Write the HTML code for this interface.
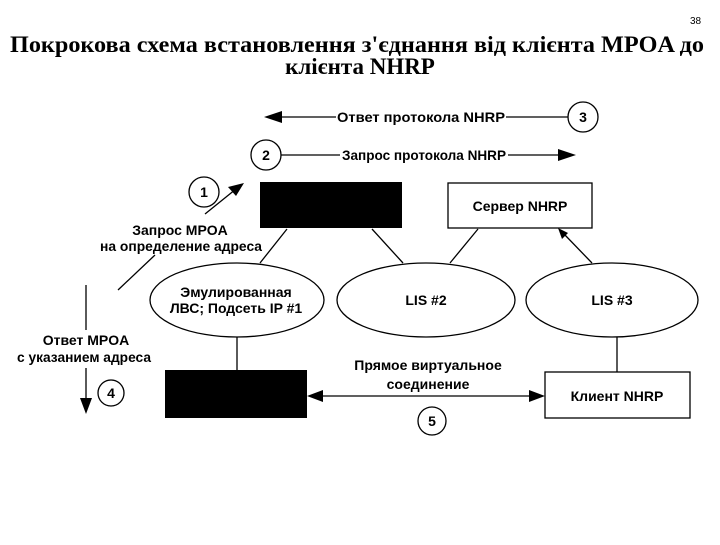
<!DOCTYPE html>
<html><head><meta charset="utf-8"><style>
body{margin:0;background:#fff;width:720px;height:540px;overflow:hidden}
svg text{font-family:"Liberation Sans",sans-serif;font-weight:bold;font-size:14px;fill:#000}
</style></head><body>
<svg width="720" height="540" viewBox="0 0 720 540" xmlns="http://www.w3.org/2000/svg">
<text x="690" y="24" style="font-weight:normal;font-size:10px">38</text>
<text x="357" y="52" text-anchor="middle" textLength="694" lengthAdjust="spacingAndGlyphs" style="font-family:'Liberation Serif',serif;font-size:23px">Покрокова схема встановлення з'єднання від клієнта MPOA до</text>
<text x="360" y="74" text-anchor="middle" style="font-family:'Liberation Serif',serif;font-size:23px">клієнта NHRP</text>
<g stroke="#000" stroke-width="1.3" fill="none">
<line x1="280" y1="117" x2="336" y2="117"/><line x1="506" y1="117" x2="568" y2="117"/>
<circle cx="583" cy="117" r="15"/>
<circle cx="266" cy="155" r="15"/>
<line x1="281" y1="155" x2="340" y2="155"/><line x1="508" y1="155" x2="562" y2="155"/>
<rect x="448" y="183" width="144" height="45"/>
<circle cx="204" cy="192" r="15"/>
<line x1="205" y1="214" x2="236" y2="189"/>
<line x1="287" y1="229" x2="260" y2="263"/>
<line x1="155" y1="255" x2="118" y2="290"/>
<ellipse cx="237" cy="300" rx="87" ry="37"/>
<ellipse cx="426" cy="300" rx="89" ry="37"/>
<ellipse cx="612" cy="300" rx="86" ry="37"/>
<line x1="372" y1="229" x2="403" y2="263"/>
<line x1="478" y1="229" x2="450" y2="263"/>
<line x1="564" y1="234" x2="592" y2="263"/>
<line x1="86" y1="285" x2="86" y2="330"/>
<line x1="86" y1="368" x2="86" y2="405"/>
<circle cx="111" cy="393" r="13"/>
<line x1="237" y1="337" x2="237" y2="370"/>
<line x1="320" y1="396" x2="532" y2="396"/>
<circle cx="432" cy="421" r="14"/>
<rect x="545" y="372" width="145" height="46"/>
<line x1="617" y1="337" x2="617" y2="372"/>
</g>
<g fill="#000">
<polygon points="264,117 282,111 282,123"/>
<polygon points="576,155 558,149 558,161"/>
<polygon points="244,183 228,187 236,196"/>
<polygon points="558,228 562,239 568,233"/>
<polygon points="86,414 80,398 92,398"/>
<polygon points="307,396 323,390 323,402"/>
<polygon points="545,396 529,390 529,402"/>
<rect x="260" y="182" width="142" height="46"/>
<rect x="165" y="370" width="142" height="48"/>
</g>
<text x="337" y="122" textLength="168" lengthAdjust="spacingAndGlyphs">Ответ протокола NHRP</text>
<text x="583" y="122" text-anchor="middle">3</text>
<text x="266" y="160" text-anchor="middle">2</text>
<text x="342" y="160" textLength="164" lengthAdjust="spacingAndGlyphs">Запрос протокола NHRP</text>
<text x="520" y="211" text-anchor="middle">Сервер NHRP</text>
<text x="204" y="197" text-anchor="middle">1</text>
<text x="180" y="235" text-anchor="middle">Запрос MPOA</text>
<text x="181" y="251" text-anchor="middle" textLength="162" lengthAdjust="spacingAndGlyphs">на определение адреса</text>
<text x="236" y="297" text-anchor="middle">Эмулированная</text>
<text x="236" y="313" text-anchor="middle">ЛВС; Подсеть IP #1</text>
<text x="426" y="305" text-anchor="middle">LIS #2</text>
<text x="612" y="305" text-anchor="middle">LIS #3</text>
<text x="86" y="345" text-anchor="middle">Ответ MPOA</text>
<text x="84" y="362" text-anchor="middle" textLength="134" lengthAdjust="spacingAndGlyphs">с указанием адреса</text>
<text x="111" y="398" text-anchor="middle">4</text>
<text x="428" y="370" text-anchor="middle">Прямое виртуальное</text>
<text x="428" y="389" text-anchor="middle">соединение</text>
<text x="432" y="426" text-anchor="middle">5</text>
<text x="617" y="401" text-anchor="middle">Клиент NHRP</text>
</svg>
</body></html>
